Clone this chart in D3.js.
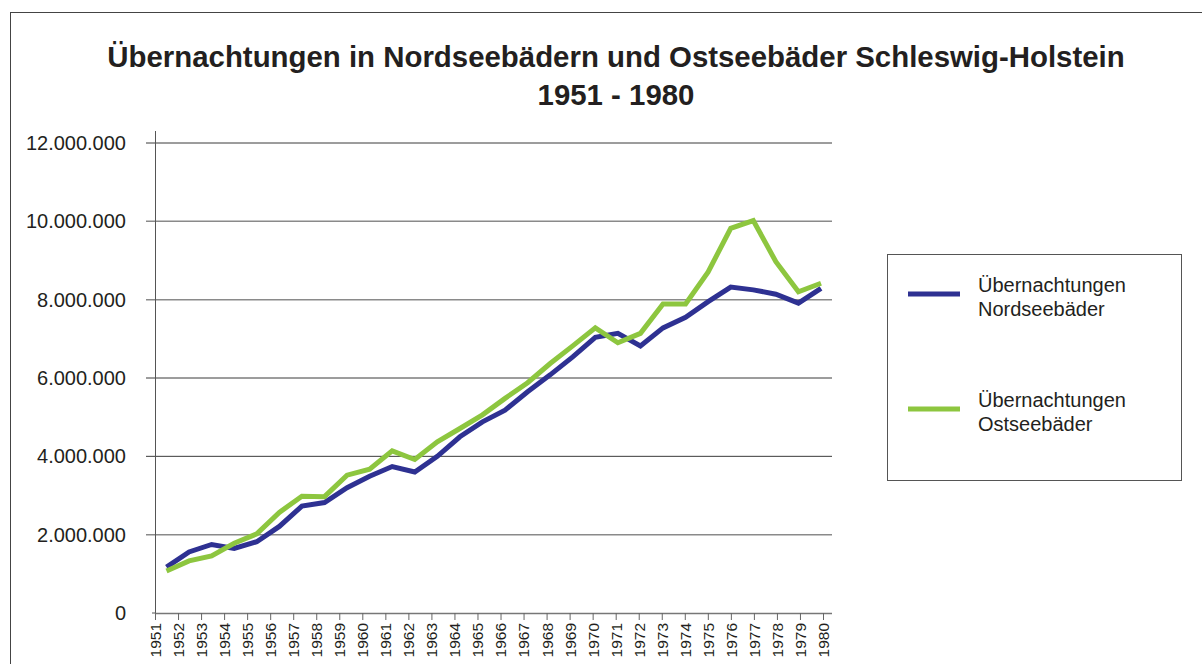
<!DOCTYPE html>
<html>
<head>
<meta charset="utf-8">
<script src="https://cdn.jsdelivr.net/npm/d3@7"></script>
<style>
  html, body { margin: 0; padding: 0; background: #fff; }
  svg { display: block; font-family: "Liberation Sans", Arial, sans-serif; }
</style>
</head>
<body>
<svg id="chart" width="1202" height="664"></svg>
<script>
// ---- data ----
const years = [1951,1952,1953,1954,1955,1956,1957,1958,1959,1960,1961,1962,1963,1964,1965,
               1966,1967,1968,1969,1970,1971,1972,1973,1974,1975,1976,1977,1978,1979,1980];
const nordsee = [1170000,1560000,1750000,1650000,1820000,2210000,2730000,2820000,3200000,3490000,
                 3740000,3600000,4000000,4500000,4880000,5180000,5650000,6080000,6540000,7040000,
                 7140000,6820000,7280000,7550000,7950000,8320000,8250000,8140000,7910000,8290000];
const ostsee  = [1070000,1330000,1460000,1780000,2020000,2570000,2980000,2970000,3520000,3670000,
                 4140000,3920000,4370000,4710000,5060000,5480000,5880000,6370000,6820000,7280000,
                 6900000,7140000,7890000,7890000,8710000,9820000,10020000,8970000,8200000,8420000];
const yTicks = [0,2000000,4000000,6000000,8000000,10000000,12000000];
const seriesNames = [["Übernachtungen","Nordseebäder"],["Übernachtungen","Ostseebäder"]];
const titleLines = ["Übernachtungen in Nordseebädern und Ostseebäder Schleswig-Holstein","1951 - 1980"];

// ---- setup ----
const svg = d3.select("#chart");
const colors = ["#2e3192", "#8dc63f"];
const locale = d3.formatLocale({decimal: ",", thousands: ".", grouping: [3], currency: ["", "€"]});
const fmt = locale.format(",");

// outer frame
svg.append("rect").attr("x", 10.5).attr("y", 12.5).attr("width", 1250).attr("height", 700)
  .attr("fill", "none").attr("stroke", "#444").attr("stroke-width", 1);

// title
svg.append("text").attr("x", 616).attr("y", 67).attr("text-anchor", "middle")
  .attr("font-size", 29.4).attr("font-weight", "bold").attr("fill", "#231f20").text(titleLines[0]);
svg.append("text").attr("x", 616).attr("y", 105).attr("text-anchor", "middle")
  .attr("font-size", 29.4).attr("font-weight", "bold").attr("fill", "#231f20").text(titleLines[1]);

// scales
const y = d3.scaleLinear().domain([0, 12000000]).range([613, 143]);
const xPts = d3.scalePoint().domain(years).range([166.5, 821]);
const xTicks = d3.scalePoint().domain(years).range([155, 823]);

// gridlines
const gridColor = v => (v === 4000000 || v === 6000000 || v === 12000000) ? "#3a3a3a" : "#8a8a8a";
svg.append("g").selectAll("line").data(yTicks.filter(v => v > 0)).join("line")
  .attr("x1", 146).attr("x2", 832)
  .attr("y1", d => y(d)).attr("y2", d => y(d))
  .attr("stroke", gridColor).attr("stroke-width", d => gridColor(d) === "#3a3a3a" ? 1 : 1.5);

// y axis
const yAxis = d3.axisLeft(y).tickValues(yTicks).tickFormat(fmt).tickSize(0).tickPadding(29);
const gy = svg.append("g").attr("transform", "translate(155,0)").call(yAxis);
gy.select(".domain").remove();
gy.selectAll("text").attr("font-size", 20).attr("fill", "#231f20")
  .attr("font-family", "Liberation Sans, Arial, sans-serif");
svg.append("line").attr("x1", 155.5).attr("x2", 155.5).attr("y1", 131).attr("y2", 613)
  .attr("stroke", "#555").attr("stroke-width", 1);
svg.append("line").attr("x1", 152).attr("x2", 155).attr("y1", y(0)).attr("y2", y(0))
  .attr("stroke", "#555");

// x axis
const xAxis = d3.axisBottom(xTicks).tickSize(7).tickSizeOuter(0).tickPadding(4);
const gx = svg.append("g").attr("transform", "translate(0,613)").call(xAxis);
gx.select(".domain").attr("d", "M155,0.5H832").attr("stroke", "#777").attr("stroke-width", 1.5);
gx.selectAll(".tick line").attr("stroke", "#666");
gx.selectAll("text").attr("font-size", 15.5).attr("fill", "#231f20")
  .attr("font-family", "Liberation Sans, Arial, sans-serif")
  .attr("transform", "rotate(-90)").attr("text-anchor", "end")
  .attr("x", -10).attr("y", 0).attr("dy", "0.35em");

// lines
const line = d3.line().x((d, i) => xPts(years[i])).y(d => y(d)).curve(d3.curveLinear);
[nordsee, ostsee].forEach((s, k) => {
  svg.append("path").datum(s).attr("d", line).attr("fill", "none")
    .attr("stroke", colors[k]).attr("stroke-width", 5).attr("stroke-linejoin", "miter")
    .attr("stroke-miterlimit", 3);
});

// legend
svg.append("rect").attr("x", 887.5).attr("y", 254.5).attr("width", 294).attr("height", 226)
  .attr("fill", "#fff").attr("stroke", "#555").attr("stroke-width", 1);
const legendY = [294, 409];
seriesNames.forEach((n, k) => {
  svg.append("line").attr("x1", 908).attr("x2", 960).attr("y1", legendY[k]).attr("y2", legendY[k])
    .attr("stroke", colors[k]).attr("stroke-width", 5);
  const t = svg.append("text").attr("x", 978).attr("y", legendY[k] - 2)
    .attr("font-size", 20).attr("fill", "#231f20");
  t.append("tspan").attr("x", 978).attr("dy", 0).text(n[0]);
  t.append("tspan").attr("x", 978).attr("dy", 23.5).text(n[1]);
});
</script>
</body>
</html>
